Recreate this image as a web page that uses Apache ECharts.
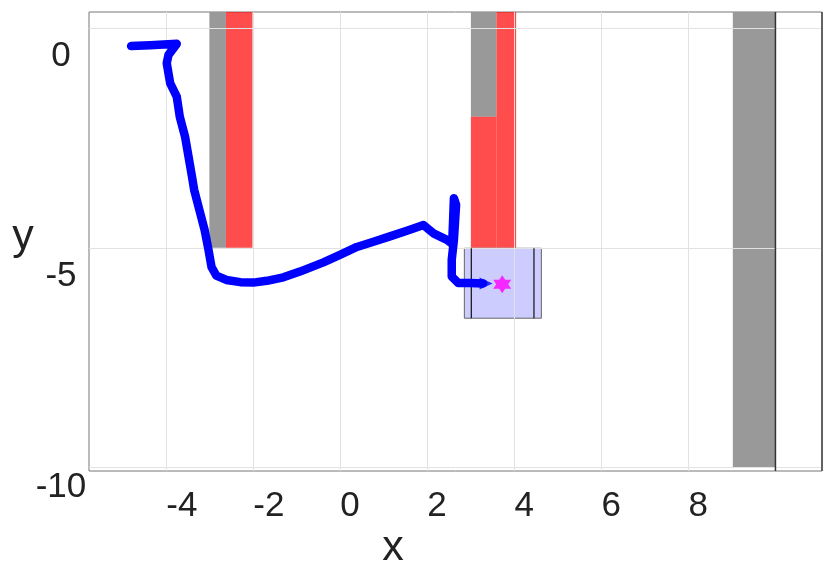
<!DOCTYPE html>
<html><head><meta charset="utf-8">
<script src="https://cdn.jsdelivr.net/npm/echarts@6/dist/echarts.min.js"></script>
<style>html,body{margin:0;padding:0;background:#fff}#c{width:830px;height:571px}</style>
</head><body><div id="c"></div>
<script>
// axis extents and ticks
const X_MIN = -5.777, X_MAX = 11.07;
const Y_MIN = -10.075, Y_MAX = 0.364;
const xTicks = [-4, -2, 0, 2, 4, 6, 8];
const yTicks = [0, -5, -10];
const yLabelsUpper = [0, -5];
const yLabelsLower = [-10];

// obstacles: [x0, x1, y0, y1]
const grayRects = [[-3.01, -2.63, -5, Y_MAX], [3.0, 3.59, -2.02, Y_MAX], [9.02, 10.0, -10, Y_MAX]];
const redRects = [[-2.63, -2.02, -5, Y_MAX], [3.59, 4.04, -5, Y_MAX], [3.0, 3.59, -5, -2.02]];
// goal box
const boxRect = [2.85, 4.62, -6.6, -5.01];
const boxLines = [3.01, 4.45];
const wallLineX = [10.0];
const goalPoint = [3.72, -5.83];

// trajectory
const pathX = [-4.81,-4.37,-3.76,-3.95,-3.99,-3.91,-3.76,-3.69,-3.57,-3.49,-3.41,-3.36,-3.24,-3.12,-3.03,-2.96,-2.85,-2.62,-2.30,-2.00,-1.69,-1.31,-0.93,-0.39,-0.01,0.38,0.76,1.14,1.53,1.91,2.02,2.14,2.45,2.57,2.59,2.61,2.66,2.61,2.56,2.56,2.71,2.98,3.28];
const pathY = [-0.41,-0.39,-0.36,-0.61,-0.80,-1.26,-1.56,-2.02,-2.47,-2.92,-3.38,-3.68,-4.14,-4.59,-5.05,-5.44,-5.63,-5.73,-5.78,-5.79,-5.75,-5.67,-5.54,-5.33,-5.16,-4.98,-4.86,-4.74,-4.61,-4.48,-4.57,-4.67,-4.82,-4.91,-4.41,-3.87,-4.02,-4.82,-5.27,-5.65,-5.80,-5.80,-5.81];

const FONT = "'Liberation Sans', Arial, sans-serif";
const chart = echarts.init(document.getElementById('c'), null, {renderer: 'canvas'});

function rectItem(fill, stroke) {
  return function (params, api) {
    const p0 = api.coord([api.value(0), api.value(3)]);
    const p1 = api.coord([api.value(1), api.value(2)]);
    return {type: 'rect', shape: {x: p0[0], y: p0[1], width: p1[0] - p0[0], height: p1[1] - p0[1]},
      style: {fill: fill, stroke: stroke || null, lineWidth: stroke ? 1 : 0}};
  };
}
function vLineItem(color, width) {
  return function (params, api) {
    const p0 = api.coord([api.value(0), api.value(3)]);
    const p1 = api.coord([api.value(1), api.value(2)]);
    return {type: 'line', shape: {x1: p0[0], y1: p0[1], x2: p1[0], y2: p1[1]}, style: {stroke: color, lineWidth: width}};
  };
}

const gridLineData = xTicks.map(v => ({xAxis: v})).concat(yTicks.map(v => ({yAxis: v})));
const labelBase = {fontSize: 35, color: '#222', fontFamily: FONT};

chart.setOption({
  animation: false,
  backgroundColor: '#fff',
  grid: {left: 89, top: 12, width: 733, height: 459, show: true, borderColor: '#777', borderWidth: 1,
    backgroundColor: 'transparent', containLabel: false, outerBoundsMode: 'none'},
  xAxis: {
    type: 'value', min: X_MIN, max: X_MAX,
    axisLine: {show: false}, splitLine: {show: false},
    axisTick: {show: true, customValues: xTicks, length: 18, lineStyle: {color: '#555'}},
    axisLabel: Object.assign({customValues: xTicks, align: 'left', margin: 18}, labelBase)
  },
  yAxis: [{
    type: 'value', min: Y_MIN, max: Y_MAX,
    axisLine: {show: false}, splitLine: {show: false},
    axisTick: {show: true, customValues: yTicks, length: 17, lineStyle: {color: '#555'}},
    axisLabel: Object.assign({customValues: yLabelsUpper, align: 'center', margin: 28, verticalAlign: 'middle',
      lineHeight: 57, formatter: v => '\n' + v}, labelBase)
  }, {
    type: 'value', min: Y_MIN, max: Y_MAX, position: 'left', offset: 0,
    axisLine: {show: false}, splitLine: {show: false}, axisTick: {show: false},
    axisLabel: Object.assign({customValues: yLabelsLower, align: 'center', margin: 28, verticalAlign: 'middle',
      lineHeight: 40, formatter: v => '\n' + v}, labelBase)
  }],
  graphic: [
    {type: 'text', x: 393, y: 548, style: {text: 'x', fontSize: 43, fill: '#222', fontFamily: FONT, align: 'center', verticalAlign: 'middle'}},
    {type: 'text', x: 23, y: 237, style: {text: 'y', fontSize: 43, fill: '#222', fontFamily: FONT, align: 'center', verticalAlign: 'middle'}}
  ],
  series: [
    {type: 'line', data: [], silent: true, z: 1,
      markLine: {silent: true, symbol: 'none', label: {show: false}, lineStyle: {color: '#e2e2e2', width: 1, type: 'solid'}, data: gridLineData}},
    {type: 'custom', z: 2, data: grayRects, renderItem: rectItem('#999999')},
    {type: 'custom', z: 3, data: redRects, renderItem: rectItem('rgba(255,0,0,0.7)')},
    {type: 'custom', z: 4, data: [boxRect], renderItem: rectItem('rgba(0,0,255,0.2)', '#666')},
    {type: 'custom', z: 5, data: boxLines.map(v => [v, v, boxRect[2], boxRect[3]]), renderItem: vLineItem('#111', 1.2)},
    {type: 'custom', z: 5, data: wallLineX.map(v => [v, v, Y_MIN, Y_MAX]), renderItem: vLineItem('#333', 1.5)},
    {type: 'custom', z: 5, data: [[X_MAX, X_MAX, Y_MIN, Y_MAX]], renderItem: vLineItem('#444', 1.5)},
    {type: 'line', z: 6, data: pathX.map((x, i) => [x, pathY[i]]), showSymbol: false, smooth: false,
      lineStyle: {color: '#0000ff', width: 8.5, cap: 'round', join: 'round'}},
    {type: 'scatter', z: 7, data: [[pathX[pathX.length - 1], pathY[pathY.length - 1]]], symbol: 'triangle',
      symbolRotate: -90, symbolSize: [12, 13], symbolOffset: [3, 0], itemStyle: {color: '#0000ff'}},
    {type: 'scatter', z: 8, data: [goalPoint],
      symbol: 'path://M0,-10 L2.89,-5 L8.66,-5 L5.77,0 L8.66,5 L2.89,5 L0,10 L-2.89,5 L-8.66,5 L-5.77,0 L-8.66,-5 L-2.89,-5 Z',
      symbolSize: 18, itemStyle: {color: '#ff00ff'}}
  ]
});
</script></body></html>
